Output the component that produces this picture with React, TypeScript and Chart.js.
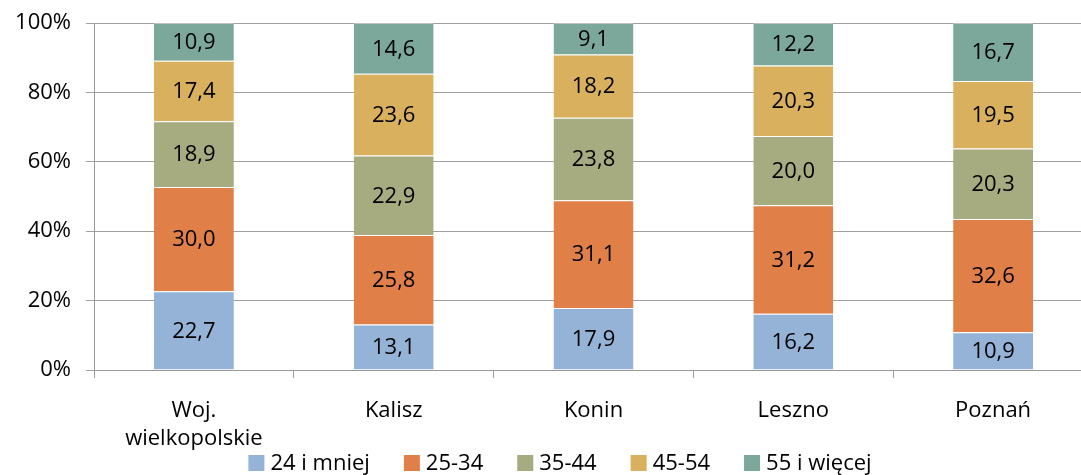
import React, { useEffect, useRef } from "react";
import { Chart, registerables } from "chart.js";

Chart.register(...registerables);

const categories: (string | string[])[] = [["Woj.", "wielkopolskie"], "Kalisz", "Konin", "Leszno", "Poznań"];
const seriesNames = ["24 i mniej", "25-34", "35-44", "45-54", "55 i więcej"];
const age24 = [22.7, 13.1, 17.9, 16.2, 10.9];
const age25_34 = [30.0, 25.8, 31.1, 31.2, 32.6];
const age35_44 = [18.9, 22.9, 23.8, 20.0, 20.3];
const age45_54 = [17.4, 23.6, 18.2, 20.3, 19.5];
const age55 = [10.9, 14.6, 9.1, 12.2, 16.7];
const yTicks = [0, 20, 40, 60, 80, 100];
const colors = ["#95B3D7", "#E07F47", "#A6AB80", "#D9B15E", "#7CA89B"];

const FONT = "'Open Sans', sans-serif";
const FS = 22;

const raw = [age24, age25_34, age35_44, age45_54, age55];
const totals = categories.map((_, i) => raw.reduce((s, arr) => s + arr[i], 0));

const labelPlugin = {
  id: "segLabels",
  afterDatasetsDraw(chart: any) {
    const ctx = chart.ctx;
    ctx.save();
    ctx.font = `${FS}px ${FONT}`;
    ctx.fillStyle = "#000";
    ctx.textAlign = "center";
    ctx.textBaseline = "middle";
    chart.data.datasets.forEach((ds: any, di: number) => {
      const meta = chart.getDatasetMeta(di);
      meta.data.forEach((bar: any, i: number) => {
        const v = raw[di][i];
        const yc = (bar.y + bar.base) / 2;
        ctx.fillText(v.toFixed(1).replace(".", ","), bar.x, yc + 1);
      });
    });
    ctx.restore();
  },
};

const legendPlugin = {
  id: "bottomLegend",
  afterDraw(chart: any) {
    const ctx = chart.ctx;
    ctx.save();
    ctx.font = `${FS}px ${FONT}`;
    ctx.textBaseline = "middle";
    ctx.textAlign = "left";
    const box = 16;
    const gapBoxText = 6;
    const gapItems = 34;
    const items = chart.data.datasets.map((ds: any) => ({
      label: ds.label,
      color: ds.backgroundColor,
      w: box + gapBoxText + ctx.measureText(ds.label).width,
    }));
    const total = items.reduce((s: number, it: any) => s + it.w, 0) + gapItems * (items.length - 1);
    const cy = 463;
    let x = 560 - total / 2;
    items.forEach((it: any) => {
      ctx.fillStyle = it.color;
      ctx.fillRect(x, cy - box / 2, box, box);
      ctx.fillStyle = "#000";
      ctx.fillText(it.label, x + box + gapBoxText, cy + 1);
      x += it.w + gapItems;
    });
    ctx.restore();
  },
};

export default function App() {
  const ref = useRef<HTMLCanvasElement>(null);
  useEffect(() => {
    if (!ref.current) return;
    const chart = new Chart(ref.current, {
      type: "bar",
      data: {
        labels: categories as any,
        datasets: raw.map((arr, di) => ({
          label: seriesNames[di],
          data: arr.map((v, i) => (v / totals[i]) * 100),
          backgroundColor: colors[di],
          borderColor: "rgba(255,255,255,0.35)",
          borderWidth: { top: 1, bottom: 0, left: 0, right: 0 },
          borderSkipped: false,
          barPercentage: 0.4,
          categoryPercentage: 1,
        })),
      },
      options: {
        responsive: false,
        animation: false,
        layout: { padding: { top: 23, left: 0, right: 0, bottom: 0 } },
        plugins: {
          tooltip: { enabled: false },
          legend: { display: false },
        },
        scales: {
          x: {
            stacked: true,
            offset: true,
            grid: {
              display: true,
              drawOnChartArea: false,
              offset: true,
              tickLength: 8,
              color: "#999",
            },
            border: { color: "#999", width: 1 },
            ticks: {
              font: { family: FONT, size: FS, lineHeight: 1.25 },
              color: "#000",
              padding: 19,
              maxRotation: 0,
            },
            afterFit: (s: any) => {
              s.height = 105;
              s.paddingLeft = 0;
              s.paddingRight = 0;
            },
          },
          y: {
            stacked: true,
            min: 0,
            max: 100,
            afterBuildTicks: (s: any) => {
              s.ticks = yTicks.map((v) => ({ value: v }));
            },
            grid: { color: "#A0A0A0", tickLength: 8, lineWidth: 1 },
            border: { color: "#999", width: 1 },
            ticks: {
              font: { family: FONT, size: FS },
              color: "#000",
              padding: 15,
              callback: (v: any) => `${v}%`,
            },
            afterFit: (s: any) => {
              s.width = 94;
              s.paddingTop = 0;
              s.paddingBottom = 0;
            },
          },
        },
      },
      plugins: [labelPlugin, legendPlugin],
    });
    return () => chart.destroy();
  }, []);
  return (
    <div style={{ position: "fixed", left: 0, top: 0, width: 1081, height: 475, overflow: "hidden", background: "#fff" }}>
      <canvas ref={ref} width={1093} height={475} style={{ display: "block" }} />
    </div>
  );
}
